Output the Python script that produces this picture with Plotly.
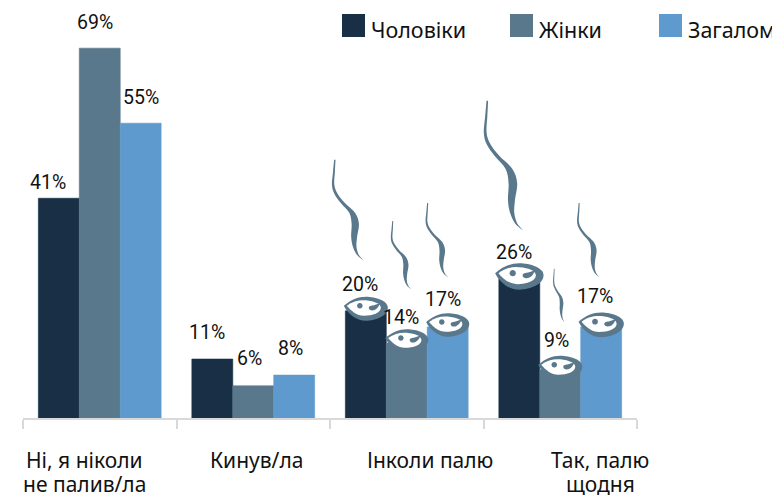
import plotly.graph_objects as go

categories = ["Ні, я ніколи<br>не палив/ла", "Кинув/ла", "Інколи палю", "Так, палю<br>щодня"]
men = [41, 11, 20, 26]
women = [69, 6, 14, 9]
total = [55, 8, 17, 17]
series_names = ["Чоловіки", "Жінки", "Загалом"]
series_values = [men, women, total]
colors = ["#182F45", "#5A788C", "#5E9ACD"]
ring_color = "#5A788C"
CAT_FONT = "Noto Sans"
LAB_FONT = "Roboto"
TEXT = "#111111"

# label offsets (px) per series / category
label_dx = [[-11, -5, -6, -5], [-5, -4, -6, -4], [0, -4, -5, -6]]
label_dy = [[16, 27, 26, 26], [26, 27, 25, 29], [26, 27, 27, 30]]
cat_dx = [-15, 3, 23, 40]

# smoke: (series, category) -> top dx, top dy, tip dx, tip dy, thickness
smokes = {
    (0, 2): (-31, 151, -3, 51, 0.85),
    (1, 2): (-14, 122, 4, 54, 0.6),
    (2, 2): (-20, 124, 0, 50, 0.65),
    (0, 3): (-32, 178, 3, 49, 1.0),
    (1, 3): (-6, 101, 4, 48, 0.42),
    (2, 3): (-22, 124, -2, 50, 0.65),
}
ring_scale = {(0, 2): 1.0, (1, 2): 0.98, (2, 2): 0.98, (0, 3): 1.1, (1, 3): 1.0, (2, 3): 1.03}

# smoke centre line (normalised) and half width (px)
C_U = [0, -0.03, -0.06, 0.04, 0.28, 0.62, 0.73, 0.69, 0.71, 0.82, 1.0]
C_V = [0, 0.12, 0.25, 0.34, 0.43, 0.53, 0.64, 0.77, 0.87, 0.95, 1.0]
C_W = [0.8, 1.1, 1.4, 1.9, 2.4, 3.4, 4.3, 3.5, 2.1, 1.1, 0.2]


def spline(pts):
    s = f"M{pts[0][0]:.2f},{pts[0][1]:.2f}"
    n = len(pts)
    for i in range(n - 1):
        p0 = pts[max(i - 1, 0)]
        p1 = pts[i]
        p2 = pts[i + 1]
        p3 = pts[min(i + 2, n - 1)]
        c1 = (p1[0] + (p2[0] - p0[0]) / 6, p1[1] + (p2[1] - p0[1]) / 6)
        c2 = (p2[0] - (p3[0] - p1[0]) / 6, p2[1] - (p3[1] - p1[1]) / 6)
        s += f"C{c1[0]:.2f},{c1[1]:.2f} {c2[0]:.2f},{c2[1]:.2f} {p2[0]:.2f},{p2[1]:.2f}"
    return s


def smoke_path(tx, ty, bx, by, t):
    W, H = bx - tx, ty - by
    cx = [tx + u * W for u in C_U]
    cy = [ty - v * H for v in C_V]
    left = [(x - w * t, y) for x, y, w in zip(cx, cy, C_W)]
    right = [(x + w * t, y) for x, y, w in zip(cx, cy, C_W)]
    return spline(left + right[::-1]) + "Z"


def bez(segs, s):
    out = ""
    for cmd, *nums in segs:
        out += cmd + " ".join(f"{n * s:.2f}" for n in nums)
    return out + "Z"


RING = [("M", -22, 5), ("C", -15, 11, -8, 14, 0, 14), ("C", 10, 14, 22, 10, 22, 3),
        ("C", 22, -5, 10, -10, 0, -10), ("C", -10, -10, -18, -3, -22, 5)]
EYE = [("M", -19, 5), ("C", -14, 9, -8, 10.5, -3, 10.5), ("C", 5, 10.5, 15, 8, 15, 3),
       ("C", 15, -2, 7, -5, -2, -5), ("C", -9, -5, -15, 0, -19, 5)]
DOT = [("M", -8.8, 5), ("C", -8.8, 6.6, -7.6, 7.8, -6, 7.8), ("C", -4.4, 7.8, -3.2, 6.6, -3.2, 5),
       ("C", -3.2, 3.4, -4.4, 2.2, -6, 2.2), ("C", -7.6, 2.2, -8.8, 3.4, -8.8, 5)]
COMMA = [("M", 3, 3), ("C", 3, 5, 6, 5, 8, 5.5), ("C", 10, 6, 12, 7, 14, 7.5),
         ("C", 13, 4, 11, 1.5, 8, 0.5), ("C", 5, 0, 3, 1, 3, 3)]

shapes = []
annotations = []
GROUP = 0.8
for k, vals in enumerate(series_values):
    for i, v in enumerate(vals):
        xc = i + (k - 1) * GROUP / 3
        annotations.append(dict(
            x=xc, y=v, xref="x", yref="y", text=f"{v}%", showarrow=False,
            xshift=label_dx[k][i], yshift=label_dy[k][i], xanchor="center", yanchor="middle",
            font=dict(family=LAB_FONT, size=19.5, color=TEXT)))
        anchor = dict(xref="x", yref="y", xsizemode="pixel", ysizemode="pixel",
                      xanchor=xc, yanchor=v, layer="above", line=dict(width=0))
        if (k, i) in smokes:
            shapes.append(dict(type="path", path=smoke_path(*smokes[(k, i)]),
                               fillcolor=ring_color, **anchor))
            s = ring_scale[(k, i)]
            shapes.append(dict(type="path", path=bez(RING, s), fillcolor=ring_color, **anchor))
            shapes.append(dict(type="path", path=bez(EYE, s), fillcolor="#FFFFFF", **anchor))
            shapes.append(dict(type="path", path=bez(DOT, s), fillcolor=ring_color, **anchor))
            shapes.append(dict(type="path", path=bez(COMMA, s), fillcolor=ring_color, **anchor))

# category labels (one annotation per line for the tight leading)
for i, c in enumerate(categories):
    for j, line in enumerate(c.split("<br>")):
        annotations.append(dict(
            x=i, y=0, xref="x", yref="paper", text=line, showarrow=False, xshift=cat_dx[i],
            yshift=-42 - 23.5 * j, xanchor="center", yanchor="middle",
            font=dict(family=CAT_FONT, size=21, color=TEXT)))

# legend
legend_sq = [342, 510, 659]
for name, col, px in zip(series_names, colors, legend_sq):
    shapes.append(dict(type="rect", xref="paper", yref="paper",
                       x0=(px - 23) / 614, x1=px / 614,
                       y0=(418 - 37) / 402, y1=(418 - 14) / 402,
                       fillcolor=col, line=dict(width=0)))
    annotations.append(dict(
        x=(px + 30 - 23) / 614, y=(418 - 29) / 402, xref="paper", yref="paper", text=name,
        showarrow=False, xanchor="left", yanchor="middle", xshift=-3,
        font=dict(family=CAT_FONT, size=21.5, color=TEXT)))

fig = go.Figure()
for name, vals, col in zip(series_names, series_values, colors):
    fig.add_trace(go.Bar(name=name, x=list(range(4)), y=vals,
                         marker=dict(color=col, line=dict(width=0.6, color=col))))

fig.update_layout(
    width=772, height=487, barmode="group", bargap=0.2, bargroupgap=0,
    margin=dict(l=15, r=143, t=8, b=77, autoexpand=False), showlegend=False,
    plot_bgcolor="white", paper_bgcolor="white",
    shapes=shapes, annotations=annotations,
    xaxis=dict(type="linear", range=[-0.5, 3.5], tickvals=[-0.5, 0.5, 1.5, 2.5, 3.5],
               showticklabels=False, ticks="outside", ticklen=9, tickwidth=2,
               tickcolor="#D9D9D9", showline=True, linecolor="#D9D9D9", linewidth=2,
               showgrid=False, zeroline=False),
    yaxis=dict(range=[0, 75], visible=False, showgrid=False, zeroline=False),
)
fig.write_html("out.html")
